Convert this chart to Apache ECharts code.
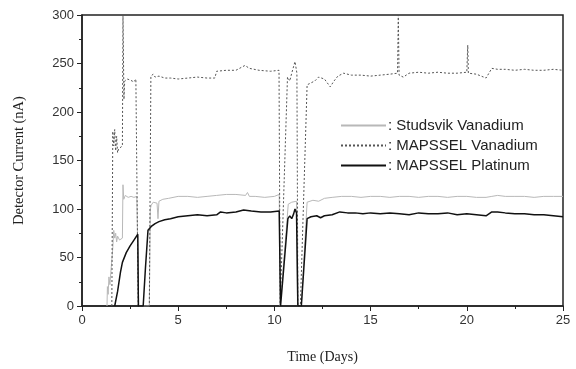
<!DOCTYPE html>
<html>
<head>
<meta charset="utf-8">
<script src="https://cdn.jsdelivr.net/npm/echarts@6/dist/echarts.min.js"></script>
<style>
  html, body { margin: 0; padding: 0; background: #fff; }
  #chart { width: 576px; height: 369px; }
</style>
</head>
<body>
<div id="chart"></div>
<script>
// Studsvik Vanadium (light gray)
var svDays = [1.3, 1.32, 1.36, 1.4, 1.45, 1.5, 1.6, 1.65, 1.7, 1.75, 1.8, 1.85, 1.95, 2.1, 2.13, 2.17, 2.25, 2.4, 2.55, 2.7, 2.85, 2.92,
  2.95, 3.5, 3.55, 3.6, 3.7, 3.8, 3.9, 3.95, 4.0, 4.2, 4.5, 5, 5.5, 6, 6.5, 7, 7.5, 8, 8.5, 8.6, 8.7, 9, 9.5, 10, 10.25,
  10.3, 10.4, 10.72, 10.9, 11.15, 11.2, 11.4, 11.7, 12, 12.3, 12.6, 13, 13.5, 14, 14.5, 15, 15.5, 16, 16.5, 17, 17.5, 18,
  18.5, 19, 19.5, 20, 20.5, 21, 21.1, 21.3, 21.6, 22, 22.5, 23, 23.5, 24, 24.5, 25];
var svValues = [0, 20, 12, 30, 22, 35, 60, 78, 70, 75, 66, 72, 68, 70, 125, 110, 114, 112, 113, 112, 113, 112,
  0, 0, 100, 104, 107, 108, 106, 90, 108, 110, 111, 113, 113, 112, 113, 114, 115, 115, 114, 117, 113, 113, 112, 113, 115,
  0, 0, 105, 107, 108, 0, 0, 107, 109, 108, 111, 112, 113, 113, 112, 113, 113, 112, 113, 113, 112, 113,
  113, 112, 113, 113, 112, 112, 111, 113, 114, 113, 113, 113, 112, 113, 113, 113];

// MAPSSEL Vanadium (dotted)
var mvDays = [1.55, 1.6, 1.65, 1.7, 1.75, 1.8, 1.85, 1.9, 1.95, 2.1, 2.13, 2.18, 2.22, 2.35, 2.5, 2.6, 2.7, 2.8, 2.88, 2.92,
  3.5, 3.58, 3.7, 3.8, 4, 4.3, 4.6, 5, 5.5, 6, 6.5, 6.9, 7.0, 7.5, 8, 8.47, 8.7, 9.2, 9.8, 10.24,
  10.3, 10.35, 10.68, 10.8, 10.9, 11.0, 11.07, 11.17, 11.22, 11.35, 11.7, 11.9, 12.1, 12.3, 12.6, 12.9, 13.1, 13.3, 13.6,
  14, 14.5, 15, 15.5, 16, 16.4, 16.44, 16.48, 16.7, 17, 17.5, 18, 18.5, 19, 19.5, 20, 20.05, 20.08, 20.5, 21, 21.1, 21.3,
  21.6, 22, 22.5, 23, 23.5, 24, 24.5, 25];
var mvValues = [0, 180, 165, 182, 160, 175, 158, 162, 160, 165, 300, 213, 232, 234, 233, 235, 231, 234, 233, 0,
  0, 237, 239, 236, 237, 235, 235, 234, 235, 236, 235, 235, 242, 243, 243, 248, 245, 243, 242, 243,
  0, 0, 236, 232, 240, 238, 252, 240, 0, 0, 228, 230, 232, 236, 234, 226, 232, 237, 240,
  238, 238, 237, 238, 239, 240, 300, 238, 236, 240, 241, 240, 241, 240, 240, 241, 269, 240, 239, 235, 233, 245,
  244, 244, 243, 244, 243, 243, 244, 243];

// MAPSSEL Platinum (black)
var ptDays = [1.7, 1.85, 2.0, 2.1, 2.3, 2.5, 2.7, 2.9, 2.93, 3.18, 3.3, 3.43, 3.6, 3.8, 4.0, 4.3, 4.6, 5, 5.5, 6, 6.5, 7, 7.2,
  7.5, 8, 8.4, 8.8, 9.3, 9.8, 10.25, 10.32, 10.38, 10.7, 10.8, 10.9, 11.0, 11.07, 11.15, 11.22, 11.4, 11.7, 11.9, 12.2,
  12.4, 12.6, 13, 13.4, 13.8, 14.2, 14.6, 15, 15.5, 16, 16.5, 17, 17.5, 18, 18.5, 19, 19.5, 20, 20.5, 21, 21.1, 21.3,
  21.6, 22, 22.5, 23, 23.5, 24, 24.5, 25];
var ptValues = [0, 15, 35, 45, 55, 62, 68, 74, 0, 0, 40, 78, 82, 85, 87, 89, 90, 92, 93, 94, 93, 94, 97,
  96, 97, 99, 98, 97, 97, 98, 0, 0, 90, 93, 90, 95, 100, 96, 0, 0, 90, 92, 93,
  91, 93, 94, 97, 96, 96, 95, 96, 95, 96, 95, 94, 96, 95, 95, 96, 94, 95, 94, 93, 92, 97,
  97, 96, 95, 95, 94, 94, 93, 92];

var xTicks = [0, 5, 10, 15, 20, 25];
var yTicks = [0, 50, 100, 150, 200, 250, 300];

function pairs(xs, ys) {
  var out = [];
  for (var i = 0; i < xs.length; i++) out.push([xs[i], ys[i]]);
  return out;
}

var chart = echarts.init(document.getElementById('chart'));
var labelFont = { fontFamily: 'Liberation Sans', fontSize: 13, color: '#333' };

chart.setOption({
  animation: false,
  backgroundColor: '#fff',
  grid: {
    left: 82, right: 13, top: 15, bottom: 61,
    show: true, borderColor: '#222', borderWidth: 1.5
  },
  legend: {
    orient: 'vertical',
    left: 335, top: 113,
    itemWidth: 45, itemHeight: 12, itemGap: 5,
    itemStyle: { opacity: 0 }, // 只显示线，不显示圆点
    data: ['Studsvik Vanadium', 'MAPSSEL Vanadium', 'MAPSSEL Platinum'],
    formatter: ': {name}',
    textStyle: { fontFamily: 'Liberation Sans', fontSize: 15, color: '#222', padding: [0, 0, 0, -3] }
  },
  xAxis: {
    type: 'value',
    min: xTicks[0], max: xTicks[xTicks.length - 1], interval: 5,
    name: 'Time (Days)', nameLocation: 'middle', nameGap: 44,
    nameTextStyle: { fontFamily: 'Liberation Serif', fontSize: 14, color: '#222' },
    axisLine: { lineStyle: { color: '#222', width: 1.5 } },
    axisTick: { length: 5, lineStyle: { color: '#222' } },
    minorTick: { show: true, splitNumber: 2, length: 3, lineStyle: { color: '#222' } },
    splitLine: { show: false },
    axisLabel: Object.assign({ margin: 8 }, labelFont)
  },
  yAxis: {
    type: 'value',
    min: yTicks[0], max: yTicks[yTicks.length - 1], interval: 50,
    name: 'Detector Current (nA)', nameLocation: 'middle', nameGap: 55,
    nameTextStyle: { fontFamily: 'Liberation Serif', fontSize: 14.5, color: '#222' },
    axisLine: { lineStyle: { color: '#222', width: 1.5 } },
    axisTick: { length: 5, lineStyle: { color: '#222' } },
    minorTick: { show: true, splitNumber: 2, length: 3, lineStyle: { color: '#222' } },
    splitLine: { show: false },
    axisLabel: Object.assign({ margin: 8 }, labelFont)
  },
  series: [
    {
      name: 'Studsvik Vanadium', type: 'line', symbol: 'none',
      data: pairs(svDays, svValues),
      lineStyle: { color: '#b8b8b8', width: 1 },
      itemStyle: { color: '#b8b8b8' }
    },
    {
      name: 'MAPSSEL Vanadium', type: 'line', symbol: 'none',
      data: pairs(mvDays, mvValues),
      lineStyle: { color: '#555', width: 1, type: [2, 2] },
      itemStyle: { color: '#555' }
    },
    {
      name: 'MAPSSEL Platinum', type: 'line', symbol: 'none',
      data: pairs(ptDays, ptValues),
      lineStyle: { color: '#111', width: 1.5 },
      itemStyle: { color: '#111' }
    }
  ]
});
</script>
</body>
</html>
